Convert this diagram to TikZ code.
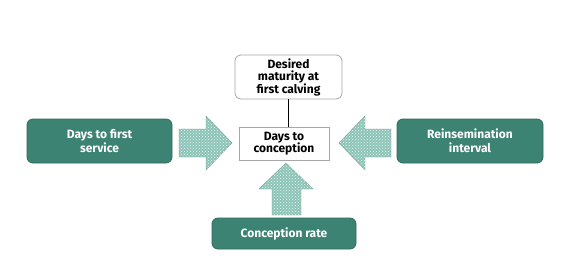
\documentclass[tikz,border=0pt]{standalone}
\usepackage{fontspec}
\setmainfont{Fira Sans}
\usetikzlibrary{patterns,shapes.arrows}
\definecolor{boxteal}{HTML}{3D8373}
\definecolor{boxedge}{HTML}{2F6A5C}
\definecolor{arrowteal}{HTML}{8EC5B9}
\definecolor{arrowedge}{HTML}{7A9E96}
\tikzset{
  tealbox/.style={draw=boxedge, line width=0.8pt, fill=boxteal, rounded corners=6pt, text=white, font=\bfseries\fontsize{12}{14}\selectfont, align=center},
  whitebox/.style={draw=gray!70, line width=0.8pt, fill=white, text=black, font=\bfseries\fontsize{12}{12.5}\selectfont, align=center, inner sep=1pt},
  bigarrow/.style={draw=arrowedge, line width=0.4pt, fill=arrowteal},
  dotover/.style={pattern=crosshatch dots, pattern color=white!80!arrowteal},
}
\begin{document}
\begin{tikzpicture}[x=1pt,y=-1pt]
\useasboundingbox (0,0) rectangle (576,276);
% boxes
\node[tealbox, minimum width=145pt, minimum height=44pt] (dfs) at (99.5,141) {Days to first\\service};
\node[tealbox, minimum width=146pt, minimum height=44pt] (ri) at (470,141) {Reinsemination\\interval};
\node[tealbox, minimum width=144pt, minimum height=31pt] (cr) at (284,233.5) {Conception rate};
\node[whitebox, minimum width=90pt, minimum height=33pt] (dc) at (284,143.5) {Days to\\conception};
\node[whitebox, rounded corners=6pt, minimum width=107pt, minimum height=44pt] (dm) at (288.5,77) {Desired\\maturity at\\first calving};
\draw[line width=0.8pt] (dm.south) -- (dm.south |- dc.north);
% arrows
\foreach \s in {bigarrow,dotover}{
  \path[\s] (179,129) -- (206,129) -- (206,116) -- (232,143) -- (206,170) -- (206,157) -- (179,157) -- cycle;
  \path[\s] (391,129) -- (365,129) -- (365,116) -- (339,143) -- (365,170) -- (365,157) -- (391,157) -- cycle;
  \path[\s] (272,215) -- (272,189) -- (259,189) -- (286,163) -- (313,189) -- (301,189) -- (301,215) -- cycle;
}
\end{tikzpicture}
\end{document}
